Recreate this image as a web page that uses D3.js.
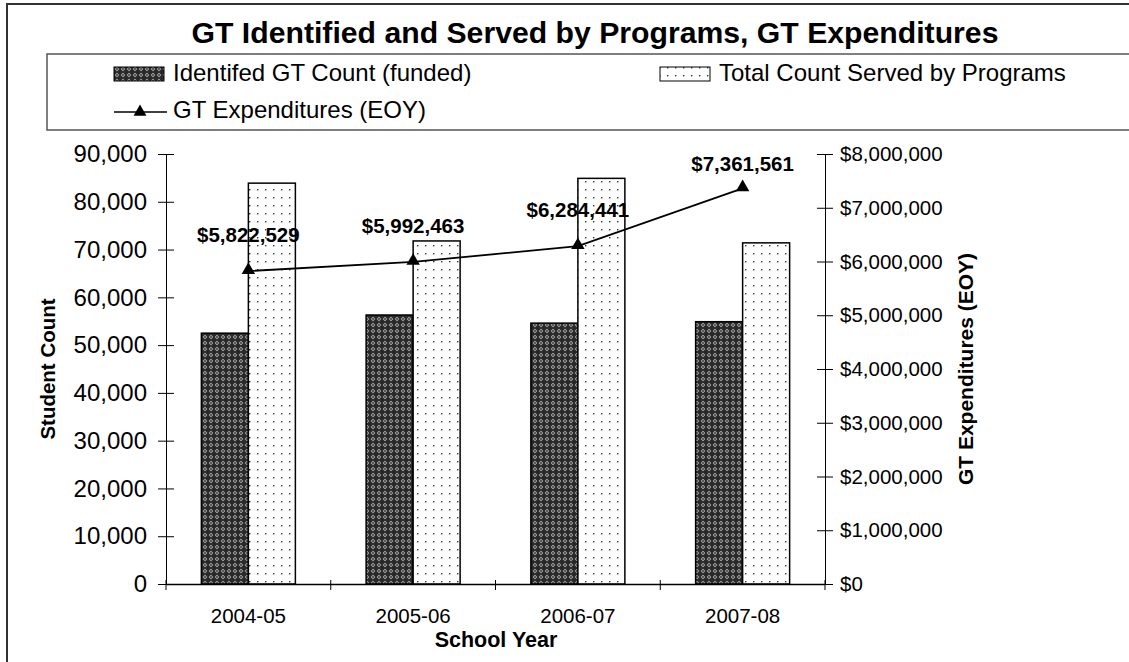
<!DOCTYPE html>
<html>
<head>
  <meta charset="utf-8">
  <script src="https://cdn.jsdelivr.net/npm/d3@7"></script>
  <style>
    body { margin: 0; background: #fff; }
    text { font-family: "Liberation Sans", Arial, sans-serif; }
  </style>
</head>
<body>
  <div id="chart"></div>
<script>
  // data
  const years = ["2004-05", "2005-06", "2006-07", "2007-08"];
  const identified = [52500, 56300, 54600, 54900];
  const served = [83900, 71800, 84900, 71400];
  const expenditures = [5822529, 5992463, 6284441, 7361561];
  const countTicks = [0, 10000, 20000, 30000, 40000, 50000, 60000, 70000, 80000, 90000];
  const moneyTicks = [0, 1000000, 2000000, 3000000, 4000000, 5000000, 6000000, 7000000, 8000000];

  const W = 1129, H = 662;
  const margin = {top: 154, left: 166, right: 304, bottom: 78};
  const width = W - margin.left - margin.right,
        height = H - margin.top - margin.bottom;
  const FONT = "Liberation Sans, Arial, sans-serif";

  const svg = d3.select("#chart").append("svg")
    .attr("width", W).attr("height", H);

  // patterns for the bars
  const defs = svg.append("defs");
  const hatch = defs.append("pattern")
    .attr("id", "hatch").attr("patternUnits", "userSpaceOnUse")
    .attr("width", 6).attr("height", 6);
  hatch.append("rect").attr("width", 6).attr("height", 6).attr("fill", "#2a2a2a");
  hatch.append("path").attr("d", "M3,0.8 L5.2,3 L3,5.2 L0.8,3 Z").attr("fill", "#bbb");
  hatch.append("circle").attr("cx", 3).attr("cy", 3).attr("r", 0.9).attr("fill", "#2a2a2a");

  const dots = defs.append("pattern")
    .attr("id", "dots").attr("patternUnits", "userSpaceOnUse")
    .attr("width", 8).attr("height", 8);
  dots.append("rect").attr("width", 8).attr("height", 8).attr("fill", "#fff");
  dots.append("rect").attr("x", 3).attr("y", 3).attr("width", 1.4).attr("height", 1.4).attr("fill", "#333");

  // outer frame and title
  svg.append("rect").attr("x", 7).attr("y", 4).attr("width", 1140).attr("height", 680)
    .attr("fill", "none").attr("stroke", "#333").attr("stroke-width", 2);
  svg.append("text").attr("x", 595).attr("y", 43).attr("text-anchor", "middle")
    .style("font-size", "30.2px").style("font-weight", "bold")
    .text("GT Identified and Served by Programs, GT Expenditures");

  // legend
  const legend = svg.append("g");
  legend.append("rect").attr("x", 47).attr("y", 54).attr("width", 1100).attr("height", 76)
    .attr("fill", "none").attr("stroke", "#555").attr("stroke-width", 1.5);
  legend.append("rect").attr("x", 114).attr("y", 67).attr("width", 50).attr("height", 14)
    .attr("fill", "url(#hatch)").attr("stroke", "#000");
  legend.append("text").attr("x", 173).attr("y", 81).style("font-size", "24px")
    .text("Identifed GT Count (funded)");
  legend.append("rect").attr("x", 660).attr("y", 67).attr("width", 50).attr("height", 14)
    .attr("fill", "url(#dots)").attr("stroke", "#000");
  legend.append("text").attr("x", 719).attr("y", 81).style("font-size", "24px")
    .text("Total Count Served by Programs");
  legend.append("line").attr("x1", 114).attr("x2", 167).attr("y1", 112).attr("y2", 112)
    .attr("stroke", "#000").attr("stroke-width", 1.5);
  legend.append("path").attr("d", d3.symbol(d3.symbolTriangle, 72)())
    .attr("transform", "translate(140,112)").attr("fill", "#000");
  legend.append("text").attr("x", 173).attr("y", 118).style("font-size", "24px")
    .text("GT Expenditures (EOY)");

  const g = svg.append("g")
    .attr("transform", "translate(" + margin.left + "," + margin.top + ")");

  // scales
  const x = d3.scaleBand().domain(years).range([0, width]);
  const barW = 47;
  const y = d3.scaleLinear().domain([0, 90000]).range([height, 0]);
  const y2 = d3.scaleLinear().domain([0, 8000000]).range([height, 0]);

  // bars
  g.selectAll(".b1").data(years).enter().append("rect")
    .attr("x", (d) => x(d) + x.bandwidth() / 2 - barW)
    .attr("y", (d, i) => y(identified[i]))
    .attr("width", barW)
    .attr("height", (d, i) => height - y(identified[i]))
    .attr("fill", "url(#hatch)").attr("stroke", "#000").attr("stroke-width", 1.5);
  g.selectAll(".b2").data(years).enter().append("rect")
    .attr("x", (d) => x(d) + x.bandwidth() / 2)
    .attr("y", (d, i) => y(served[i]))
    .attr("width", barW)
    .attr("height", (d, i) => height - y(served[i]))
    .attr("fill", "url(#dots)").attr("stroke", "#000").attr("stroke-width", 1.5);

  // left axis
  const yAxis = g.append("g")
    .call(d3.axisLeft(y).tickValues(countTicks).tickFormat(d3.format(",")).tickSizeInner(8).tickSizeOuter(0).tickPadding(11));
  yAxis.selectAll(".tick line").attr("x1", 8);
  yAxis.selectAll("text").style("font-size", "24px").style("font-family", FONT);

  // right axis
  const y2Axis = g.append("g").attr("transform", "translate(" + width + ",0)")
    .call(d3.axisRight(y2).tickValues(moneyTicks).tickFormat((d) => "$" + d3.format(",")(d)).tickSizeInner(8).tickSizeOuter(0).tickPadding(7));
  y2Axis.selectAll(".tick line").attr("x1", -8);
  y2Axis.selectAll("text").style("font-size", "20.5px").style("font-family", FONT);

  // bottom axis
  const xAxis = g.append("g").attr("transform", "translate(0," + height + ")")
    .call(d3.axisBottom(x).tickSize(0).tickPadding(24));
  xAxis.select(".domain").attr("stroke-width", 1.5);
  xAxis.selectAll("text").style("font-size", "20.5px").style("font-family", FONT);
  xAxis.selectAll(".sep").data(years.concat(["end"])).enter().append("line")
    .attr("x1", (d, i) => i * x.step()).attr("x2", (d, i) => i * x.step())
    .attr("y1", -4).attr("y2", 6).attr("stroke", "#000");

  // expenditure line
  const line = d3.line()
    .x((d, i) => x(years[i]) + x.bandwidth() / 2)
    .y((d) => y2(d));
  g.append("path").datum(expenditures).attr("d", line)
    .attr("fill", "none").attr("stroke", "#000").attr("stroke-width", 1.8);
  g.selectAll(".pt").data(expenditures).enter().append("path")
    .attr("d", d3.symbol(d3.symbolTriangle, 78)())
    .attr("transform", (d, i) => "translate(" + (x(years[i]) + x.bandwidth() / 2) + "," + (y2(d) - 1) + ")")
    .attr("fill", "#000");
  // labels sit above the points but stay inside the plot area
  g.selectAll(".lbl").data(expenditures).enter().append("text")
    .attr("x", (d, i) => x(years[i]) + x.bandwidth() / 2)
    .attr("y", (d) => Math.max(y2(d) - 29, 17))
    .attr("text-anchor", "middle")
    .style("font-size", "20.5px").style("font-weight", "bold")
    .text((d) => "$" + d3.format(",")(d));

  // axis titles
  svg.append("text").attr("transform", "translate(55,369) rotate(-90)")
    .attr("text-anchor", "middle").style("font-size", "20.5px").style("font-weight", "bold")
    .text("Student Count");
  svg.append("text").attr("transform", "translate(973,369) rotate(-90)")
    .attr("text-anchor", "middle").style("font-size", "21px").style("font-weight", "bold")
    .text("GT Expenditures (EOY)");
  svg.append("text").attr("x", 496).attr("y", 647)
    .attr("text-anchor", "middle").style("font-size", "21.5px").style("font-weight", "bold")
    .text("School Year");
</script>
</body>
</html>
